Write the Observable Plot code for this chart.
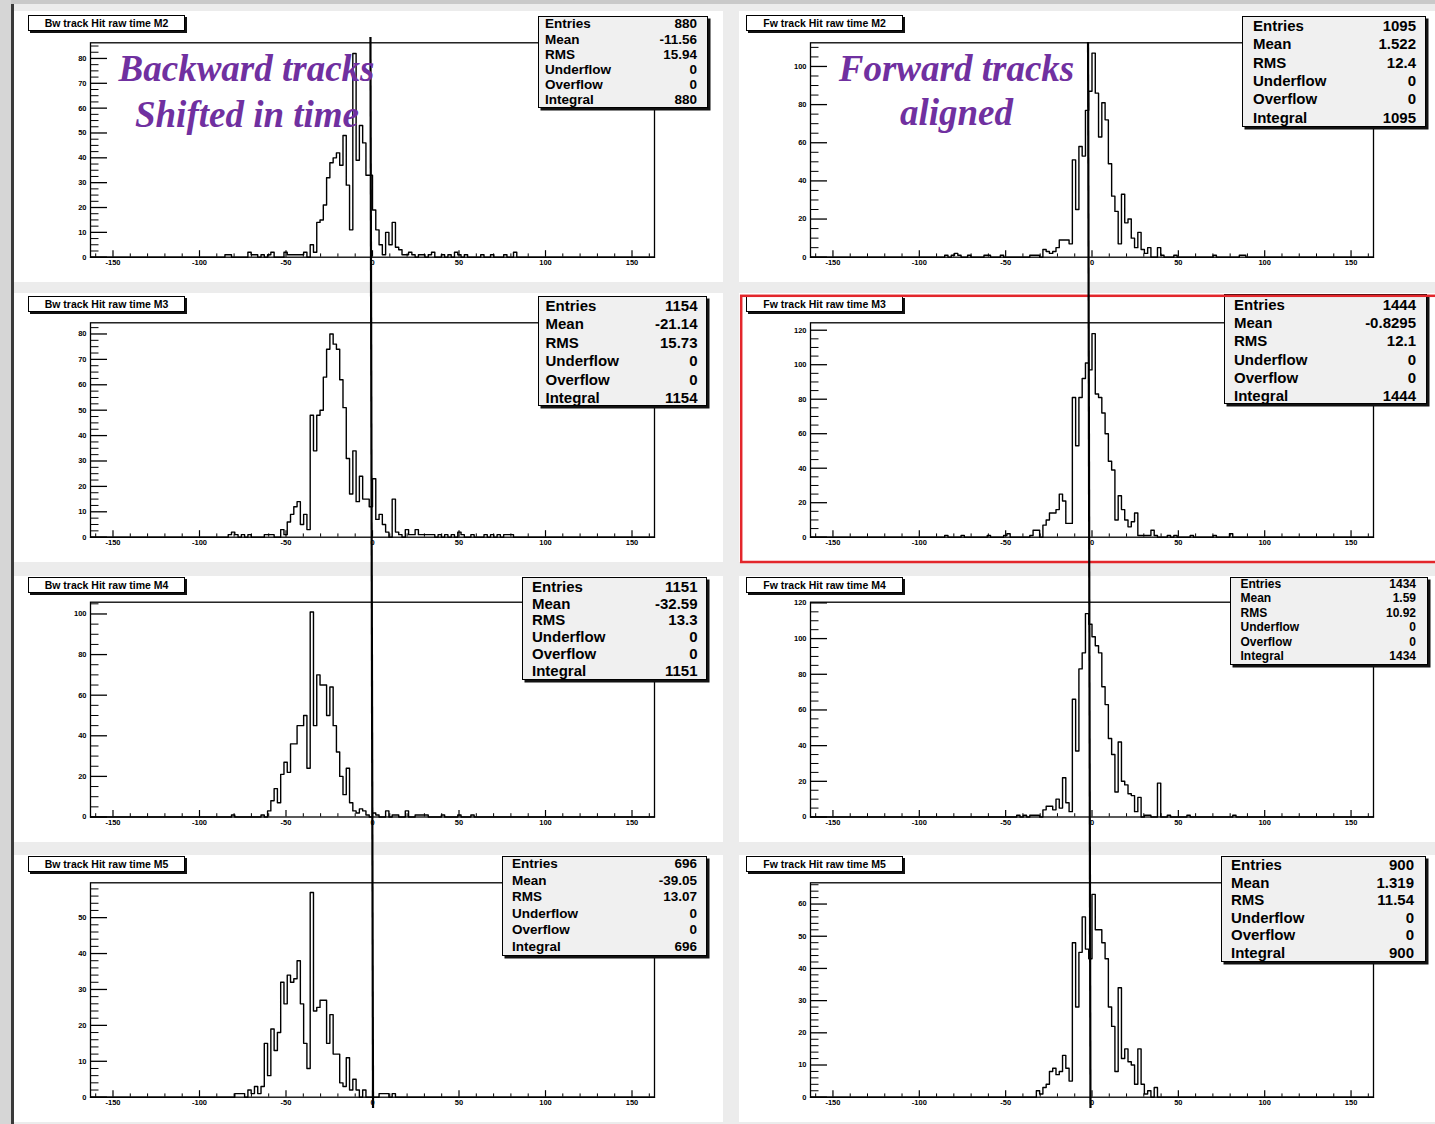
<!DOCTYPE html>
<html><head><meta charset="utf-8">
<script src="https://cdn.jsdelivr.net/npm/d3@7"></script>
<script src="https://cdn.jsdelivr.net/npm/@observablehq/plot@0.6"></script>
<style>
html,body{margin:0;padding:0;background:#ececec;}
#page{position:relative;width:1435px;height:1124px;overflow:hidden;background:#ececec;font-family:"Liberation Sans",Arial,Helvetica,sans-serif;}
.band{position:absolute;}
.title{position:absolute;box-sizing:border-box;background:#fff;border:1px solid #000;box-shadow:2px 2px 0 #111;font-weight:bold;font-size:10.5px;line-height:14px;height:16px;text-align:center;white-space:nowrap;color:#000;}
.stats{position:absolute;box-sizing:border-box;background:#f0f0f0;border:1px solid #000;box-shadow:2.5px 2.5px 0 #111;font-weight:bold;color:#000;}
.stats .lab,.stats .val{position:absolute;line-height:1;white-space:nowrap;transform:translateY(-50%);}
svg [aria-label$="tick label"] text{font-weight:bold;}
</style></head>
<body><div id="page"></div>
<script>
// ---------------- data ----------------
const panelTitles = [
  "Bw track Hit raw time M2","Fw track Hit raw time M2",
  "Bw track Hit raw time M3","Fw track Hit raw time M3",
  "Bw track Hit raw time M4","Fw track Hit raw time M4",
  "Bw track Hit raw time M5","Fw track Hit raw time M5"];
const statLabels = ["Entries","Mean","RMS","Underflow","Overflow","Integral"];
const statsBwM2 = ["880","-11.56","15.94","0","0","880"];
const statsFwM2 = ["1095","1.522","12.4","0","0","1095"];
const statsBwM3 = ["1154","-21.14","15.73","0","0","1154"];
const statsFwM3 = ["1444","-0.8295","12.1","0","0","1444"];
const statsBwM4 = ["1151","-32.59","13.3","0","0","1151"];
const statsFwM4 = ["1434","1.59","10.92","0","0","1434"];
const statsBwM5 = ["696","-39.05","13.07","0","0","696"];
const statsFwM5 = ["900","1.319","11.54","0","0","900"];

const xRange = [-163, 163];
const nBins = 172;
const xMajorTicks = [-150, -100, -50, 0, 50, 100, 150];
const xMinorStep = 10;
const yMax = [86.3, 112.4, 84.4, 124.3, 105.8, 120.4, 59.7, 66.6];
const yMajorStep = [10, 20, 10, 20, 20, 20, 10, 10];
const yMinorStep = [2.5, 5, 2.5, 5, 5, 5, 2, 2];

// histogram contents: first-bin position, consecutive bin counts, isolated tail bins [x, count]
const bwM2Start = -35.8;
const bwM2Counts = [5,2,14,15,21,32,38,40,42,37,49,29,11,82,39,53,46,33,33,19,11,5,1,10,5,14,4,3,1];
const bwM2Tail = [[-85,1],[-83,1],[-72,2],[-70,1],[-68,1],[-64,1],[-60,1],[-58,2],[-50,2],[-48,1],[-46,1],[-44,1],[-42,1],[-40,1],[-38,2],[20,1],[22,2],[24,1],[27,1],[30,1],[33,1],[35,2],[41,1],[45,1],[48,2],[51,1],[54,1],[63,1],[70,1],[77,1],[83,2]];

const fwM2Start = -29.3;
const fwM2Counts = [4,3,2,3,5,9,9,9,7,51,25,58,53,77,87,107,86,63,81,72,49,32,24,7,33,18,20,10,5,13,4,2,5,0,0,5,1];
const fwM2Tail = [[-85,1],[-80,1],[-78,2],[-76,1],[-71,1],[-61,1],[-59,1],[-52,1],[-35,1],[-33,1],[-31,1],[49,1],[72,1],[86,1],[89,1]];

const bwM3Start = -52.3;
const bwM3Counts = [3,1,6,9,12,14,5,9,3,48,34,48,50,63,74,80,76,74,62,51,31,17,34,14,24,15,15,12,23,7,9,5,2,0,15,2,1];
const bwM3Tail = [[-82,1],[-80,2],[-78,1],[-74,1],[-72,1],[-62,1],[-59,1],[-57,1],[19,3],[21,1],[23,1],[25,3],[27,1],[29,1],[31,1],[33,1],[36,1],[38,1],[43,1],[47,1],[50,2],[52,1],[58,1],[66,1],[70,1],[73,1],[76,1],[79,1],[81,1]];

const fwM3Start = -36.9;
const fwM3Counts = [1,4,4,0,7,10,14,14,16,25,21,8,8,81,53,81,92,101,97,118,83,81,72,60,44,39,10,24,16,10,6,9,14,1,1,1,1,4,1];
const fwM3Tail = [[-85,1],[-75,1],[-60,1],[-51,1],[-49,2],[44,1],[48,1],[57,1],[72,1],[81,2]];

const bwM4Start = -60.3;
const bwM4Counts = [3,8,14,7,21,27,22,36,36,45,45,50,24,101,45,70,65,65,50,64,45,32,20,11,24,7,3,2,4,3,1];
const bwM4Tail = [[-81,1],[-64,1],[1,2],[3,1],[8,3],[13,1],[15,1],[20,3],[26,1],[28,1],[30,1],[32,1],[41,1],[51,1],[58,1]];

const fwM4Start = -28.8;
const fwM4Counts = [4,6,6,4,10,5,22,8,3,66,37,83,92,114,108,101,96,92,73,63,44,35,14,42,20,18,13,12,3,11,0,1,1,0,0,19];
const fwM4Tail = [[-42,1],[-38,1],[-36,1],[-34,1],[-31,1],[44,1],[55,1],[83,1]];

const bwM5Start = -71.7;
const bwM5Counts = [2,1,3,1,3,15,6,19,13,18,32,26,34,32,33,38,26,15,8,57,24,25,27,27,15,23,12,12,4,3,11,2,5,2,0,2];
const bwM5Tail = [[-79,1],[-77,1],[-75,1],[5,1],[7,1],[9,1],[13,1]];

const fwM5Start = -33.1;
const fwM5Counts = [2,1,3,4,8,9,7,8,13,9,5,48,28,45,56,46,43,63,52,52,48,43,28,22,8,34,12,15,11,10,4,15,4,1,2,0,3];
const fwM5Tail = [];

const annotationLines = ["Backward tracks", "Shifted in time", "Forward tracks", "aligned"];
// x value (data units) where the hand-drawn vertical marker crosses the top and bottom panels
const markerLeftX = [-0.9, 0.6];
const markerRightX = [-2.0, -0.6];

// ---------------- layout ----------------
const page = document.getElementById("page");
const cols = [
  {x: 14, w: 709, fl: 90, fr: 654, tx: 28},
  {x: 739, w: 696, fl: 810, fr: 1373, tx: 746}];
const rows = [
  {y: 11, h: 271, ft: 42.3, fb: 256.7, ty: 15},
  {y: 293, h: 269, ft: 322.3, fb: 536.7, ty: 296},
  {y: 576, h: 266, ft: 601.7, fb: 816.5, ty: 577},
  {y: 855, h: 267, ft: 882.3, fb: 1096.7, ty: 856}];
const statsLayout = [
  {x: 538, y: 16, w: 170, h: 92, fs: 13.5, first: 8.3, step: 15.2, pl: 6, pr: 10},
  {x: 1242, y: 16, w: 184, h: 111, fs: 15, first: 9, step: 18.3, pl: 10, pr: 9},
  {x: 538, y: 296, w: 169, h: 110, fs: 15, first: 9, step: 18.4, pl: 6.5, pr: 8.5},
  {x: 1224, y: 294, w: 203, h: 110, fs: 15, first: 10, step: 18.2, pl: 9, pr: 10},
  {x: 522, y: 577, w: 185, h: 103, fs: 15, first: 8.7, step: 16.8, pl: 9, pr: 8.5},
  {x: 1230, y: 577, w: 198, h: 88, fs: 12, first: 7, step: 14.4, pl: 9.5, pr: 11},
  {x: 502, y: 856, w: 205, h: 100, fs: 13.5, first: 8.3, step: 16.5, pl: 9, pr: 9},
  {x: 1221, y: 856, w: 205, h: 106, fs: 15, first: 8, step: 17.5, pl: 9, pr: 11}];

function band(x, y, w, h, bg) {
  const d = document.createElement("div");
  d.className = "band";
  Object.assign(d.style, {left: x + "px", top: y + "px", width: w + "px", height: h + "px", background: bg});
  page.appendChild(d);
}
band(0, 0, 1435, 4, "#c9c9c9");
band(0, 0, 11, 1124, "#d6d6d6");
band(11, 4, 2.5, 1120, "#3a3a3a");

function histPoints(start, counts, tail) {
  const w = (xRange[1] - xRange[0]) / nBins;
  const arr = new Array(nBins).fill(0);
  tail.forEach(([x, c]) => { const k = Math.floor((x - xRange[0]) / w); if (k >= 0 && k < nBins) arr[k] = c; });
  const k0 = Math.round((start - xRange[0]) / w);
  counts.forEach((c, j) => { const k = k0 + j; if (k >= 0 && k < nBins) arr[k] = c; });
  const pts = arr.map((c, k) => ({x: xRange[0] + k * w, y: c}));
  pts.push({x: xRange[1], y: arr[nBins - 1]});
  return pts;
}

const histData = [
  histPoints(bwM2Start, bwM2Counts, bwM2Tail), histPoints(fwM2Start, fwM2Counts, fwM2Tail),
  histPoints(bwM3Start, bwM3Counts, bwM3Tail), histPoints(fwM3Start, fwM3Counts, fwM3Tail),
  histPoints(bwM4Start, bwM4Counts, bwM4Tail), histPoints(fwM4Start, fwM4Counts, fwM4Tail),
  histPoints(bwM5Start, bwM5Counts, bwM5Tail), histPoints(fwM5Start, fwM5Counts, fwM5Tail)];
const statsData = [statsBwM2, statsFwM2, statsBwM3, statsFwM3, statsBwM4, statsFwM4, statsBwM5, statsFwM5];

const isMult = (v, s) => Math.abs(v / s - Math.round(v / s)) < 1e-6;
const xMinorTicks = d3.range(-160, 160.001, xMinorStep).filter(v => !isMult(v, 50));

const plots = [];
histData.forEach((pts, i) => {
  const r = rows[Math.floor(i / 2)], c = cols[i % 2];
  const mt = r.ft - r.y, mb = r.y + r.h - r.fb, ml = c.fl - c.x, mr = c.x + c.w - c.fr;
  const fw = c.fr - c.fl, fh = r.fb - r.ft;
  const ym = yMax[i];
  const yMaj = d3.range(0, ym + 1e-6, yMajorStep[i]);
  const yMin = d3.range(0, ym + 1e-6, yMinorStep[i]).filter(v => !isMult(v, yMajorStep[i]));
  const p = Plot.plot({
    width: c.w, height: r.h,
    marginTop: mt, marginBottom: mb, marginLeft: ml, marginRight: mr,
    x: {domain: xRange},
    y: {domain: [0, ym]},
    style: {background: "#fff", fontFamily: "'Liberation Sans', Arial, Helvetica, sans-serif", color: "#000"},
    marks: [
      Plot.ruleX(xMinorTicks, {stroke: "#000", strokeWidth: 1, insetTop: fh - 3.3}),
      Plot.ruleX(xMajorTicks, {stroke: "#000", strokeWidth: 1.2, insetTop: fh - 6.5}),
      Plot.ruleY(yMin, {stroke: "#000", strokeWidth: 1, insetRight: fw - 8.5}),
      Plot.ruleY(yMaj, {stroke: "#000", strokeWidth: 1.3, insetRight: fw - 17}),
      Plot.lineY(pts, {x: "x", y: "y", curve: "step-after", stroke: "#000", strokeWidth: 1.4}),
      Plot.frame({stroke: "#000", strokeWidth: 1.3}),
      Plot.axisX({ticks: xMajorTicks, tickSize: 0, tickPadding: 2.5, fontSize: 7.5, fontWeight: "bold", tickFormat: d => String(d), label: null}),
      Plot.axisY({ticks: yMaj, tickSize: 0, tickPadding: 4, fontSize: 7.5, fontWeight: "bold", tickFormat: d => String(d), label: null})
    ]
  });
  p.style.position = "absolute";
  p.style.left = c.x + "px";
  p.style.top = r.y + "px";
  page.appendChild(p);
  plots.push(p);

  // title box
  const t = document.createElement("div");
  t.className = "title";
  Object.assign(t.style, {left: c.tx + "px", top: r.ty + "px", width: "157px"});
  t.textContent = panelTitles[i];
  page.appendChild(t);

  // statistics box
  const L = statsLayout[i];
  const s = document.createElement("div");
  s.className = "stats";
  Object.assign(s.style, {left: L.x + "px", top: L.y + "px", width: L.w + "px", height: L.h + "px", fontSize: L.fs + "px"});
  statLabels.forEach((lab, j) => {
    const a = document.createElement("div");
    a.className = "lab"; a.textContent = lab;
    a.style.left = L.pl + "px"; a.style.top = (L.first + j * L.step - 1) + "px";
    const b = document.createElement("div");
    b.className = "val"; b.textContent = statsData[i][j];
    b.style.right = L.pr + "px"; b.style.top = (L.first + j * L.step - 1) + "px";
    s.appendChild(a); s.appendChild(b);
  });
  page.appendChild(s);
});

// ---------------- overlay: marker lines, notes, highlight ----------------
const ov = d3.select(page).append("svg")
  .attr("width", 1435).attr("height", 1124)
  .style("position", "absolute").style("left", "0px").style("top", "0px");

ov.append("rect")
  .attr("x", 741.2).attr("y", 295.8).attr("width", 700).attr("height", 266.2)
  .attr("fill", "none").attr("stroke", "#e3262b").attr("stroke-width", 2.5);

const lxTop = cols[0].x + plots[0].scale("x").apply(markerLeftX[0]);
const lxBot = cols[0].x + plots[6].scale("x").apply(markerLeftX[1]);
const rxTop = cols[1].x + plots[1].scale("x").apply(markerRightX[0]);
const rxBot = cols[1].x + plots[7].scale("x").apply(markerRightX[1]);
ov.append("line").attr("x1", lxTop).attr("y1", 37).attr("x2", lxBot).attr("y2", 1108)
  .attr("stroke", "#000").attr("stroke-width", 2.2);
ov.append("line").attr("x1", rxTop).attr("y1", 42).attr("x2", rxBot).attr("y2", 1108)
  .attr("stroke", "#000").attr("stroke-width", 2.2);

const notePos = [[246.5, 81], [247, 126.5], [956.5, 81], [956.5, 125]];
annotationLines.forEach((txt, i) => {
  ov.append("text")
    .attr("x", notePos[i][0]).attr("y", notePos[i][1])
    .attr("text-anchor", "middle")
    .attr("font-family", "'Liberation Serif', 'Times New Roman', serif")
    .attr("font-style", "italic").attr("font-weight", "bold")
    .attr("font-size", 37).attr("fill", "#7030a0")
    .text(txt);
});
</script>
</body></html>
